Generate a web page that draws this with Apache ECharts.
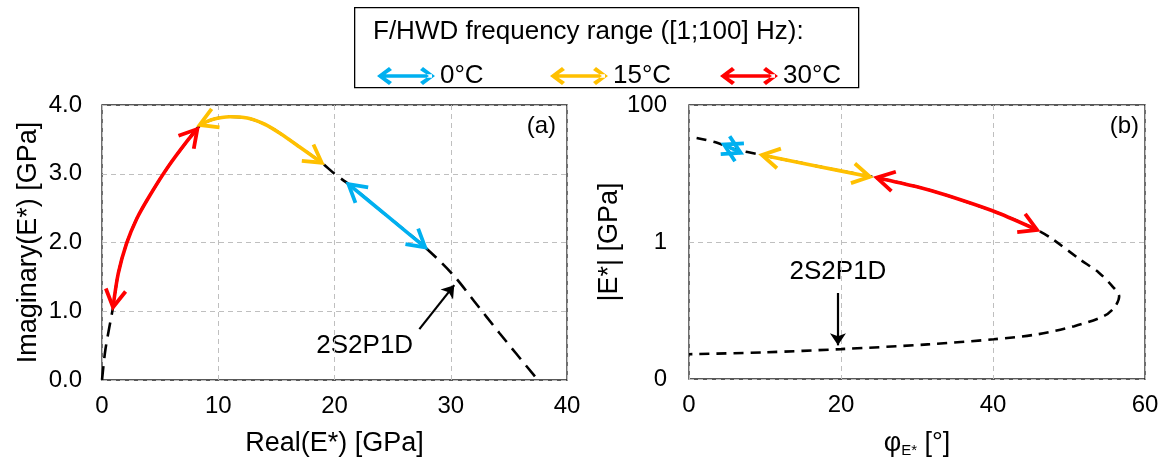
<!DOCTYPE html>
<html><head><meta charset="utf-8">
<script src="https://cdn.jsdelivr.net/npm/echarts@6/dist/echarts.min.js"></script>
<style>html,body{margin:0;padding:0;background:#fff}#c{width:1170px;height:463px}</style>
</head><body><div id="c"></div>
<script>
const FONT = '"Liberation Sans", Arial, sans-serif';

// ---- Panel (a): Cole-Cole plane, Real(E*) vs Imaginary(E*) [GPa]
const modelReal = [0,0.3,0.95,1.4,2.1,3.0,4.1,5.6,7.3,8.3,9.5,11,12.5,14,15.3,17,18.9,20,21.2,24.5,27.8,30.2,32,34.2,37.5];
const modelImag = [0,0.45,1.06,1.55,1.98,2.35,2.68,3.08,3.47,3.68,3.79,3.83,3.81,3.72,3.59,3.39,3.16,3.0,2.85,2.39,1.93,1.53,1.15,0.68,0];
const real30 = [0.95,1.4,2.1,3.0,4.1,5.6,7.3,8.2];
const imag30 = [1.06,1.55,1.98,2.35,2.68,3.08,3.47,3.65];
const real15 = [8.4,9.5,11,12.5,14,15.3,17,18.9];
const imag15 = [3.71,3.79,3.83,3.81,3.72,3.59,3.39,3.16];
const real0 = [21.2,24.5,27.8];
const imag0 = [2.85,2.39,1.93];

// ---- Panel (b): Black diagram, phase angle [°] vs |E*| [GPa]
const modelPhase = [1.0,3.5,5.8,9.6,15,20,24.7,30,33.9,40.5,45.8,47.9,51.4,53.9,55.8,56.6,56.0,54.6,50.7,45.9,40.1,31.4,20,9.9,0];
const modelModulus = [33,28.5,23,18.6,14.1,10.9,8.7,6.4,4.8,2.7,1.5,1.09,0.56,0.36,0.22,0.16,0.112,0.083,0.059,0.045,0.038,0.032,0.0273,0.0245,0.023];
const phase30 = [24.7,30,33.9,40.5,45.8];
const modulus30 = [8.7,6.4,4.8,2.7,1.5];
const phase15 = [9.6,16.7,23.8];
const modulus15 = [18.6,12.9,8.97];
const phase0 = [4.6,6.8];
const modulus0 = [26.5,20.0];

// annotations
const annotA = {label:'2S2P1D', text:[22.6,0.49], from:[27.3,0.74], to:[30.3,1.38]};
const annotB = {label:'2S2P1D', text:[19.6,0.37], from:[19.6,0.18], to:[19.6,0.031]};

const seriesNames = ['0°C','15°C','30°C'];
const seriesColors = ['#00B0F0','#FFC000','#FF0000'];
const legendTitle = 'F/HWD frequency range ([1;100] Hz):';

const zip = (a,b) => a.map((v,i)=>[v,b[i]]);

const DBL = 'path://M0,9 L12,0 L15,3 L6,9 L15,15 L12,18 Z M58,9 L46,0 L43,3 L52,9 L43,15 L46,18 Z M3,7.2 L55,7.2 L55,10.8 L3,10.8 Z';
const ARM = 20, HALF = 30 * Math.PI / 180;

function curve(name, pts, color, gi){
  return {type:'line', name, xAxisIndex:gi, yAxisIndex:gi, data:pts, smooth:0.3, showSymbol:false, symbol:'none',
    color, itemStyle:{color}, lineStyle:{color, width:3.6}, z:3, silent:true};
}
// open chevron arrowheads at both ends of a curve, drawn through the axes
function heads(pts, color, gi){
  const n = pts.length;
  const data = [[...pts[0], ...pts[1]], [...pts[n-1], ...pts[n-2]]];
  return {type:'custom', xAxisIndex:gi, yAxisIndex:gi, data, z:4, silent:true,
    encode:{x:[0,2], y:[1,3]},
    renderItem(params, api){
      const tip = api.coord([api.value(0), api.value(1)]);
      const prev = api.coord([api.value(2), api.value(3)]);
      const ang = Math.atan2(prev[1]-tip[1], prev[0]-tip[0]);
      const a1 = [tip[0] + ARM*Math.cos(ang+HALF), tip[1] + ARM*Math.sin(ang+HALF)];
      const a2 = [tip[0] + ARM*Math.cos(ang-HALF), tip[1] + ARM*Math.sin(ang-HALF)];
      return {type:'polyline', shape:{points:[a1, tip, a2]},
        style:{stroke:color, lineWidth:3.8, fill:null, lineJoin:'miter', lineCap:'butt'}};
    }};
}
function model(pts, gi, dash){
  return {type:'line', name:'2S2P1D', xAxisIndex:gi, yAxisIndex:gi, data:pts, smooth:0.3, showSymbol:false, symbol:'none',
    lineStyle:{color:'#000', width:2.6, type:dash}, z:2, silent:true};
}
function annotArrow(a, gi){
  return {type:'lines', coordinateSystem:'cartesian2d', xAxisIndex:gi, yAxisIndex:gi, symbol:['none','arrow'], symbolSize:12,
      lineStyle:{color:'#000', width:2.2, opacity:1}, data:[{coords:[a.from,a.to]}], z:5, silent:true};
}

const axisLabel = {fontSize:24, color:'#000', fontFamily:FONT};
const split = {show:true, lineStyle:{type:[5,4], color:'#bfbfbf', width:1}};
const nameStyle = {fontSize:27, color:'#000', fontFamily:FONT};

const ptsModelA = zip(modelReal, modelImag);
const ptsA = [zip(real0,imag0), zip(real15,imag15), zip(real30,imag30)];
const ptsModelB = zip(modelPhase, modelModulus);
const ptsB = [zip(phase0,modulus0), zip(phase15,modulus15), zip(phase30,modulus30)];

const series = [model(ptsModelA,0,[14,8]), model(ptsModelB,1,[10,7])];
for (let i=0;i<3;i++){
  series.push(curve(seriesNames[i], ptsA[i], seriesColors[i], 0));
  series.push(heads(ptsA[i], seriesColors[i], 0));
  series.push(curve(seriesNames[i], ptsB[i], seriesColors[i], 1));
  series.push(heads(ptsB[i], seriesColors[i], 1));
}
series.push(annotArrow(annotA,0), annotArrow(annotB,1));

const legendLefts = [372, 545, 715];
const legends = seriesNames.map((n,i)=>({
  data:[{name:n, icon:DBL}], left:legendLefts[i], top:58, itemWidth:58, itemHeight:18, itemGap:0,
  selectedMode:false, textStyle:{fontSize:26, color:'#000', fontFamily:FONT}
}));

const chart = echarts.init(document.getElementById('c'), null, {renderer:'canvas'});
const baseGraphic = [
  {type:'rect', left:354, top:7, shape:{width:504, height:80}, style:{fill:'#fff', stroke:'#000', lineWidth:1.3}, z:-1},
  {type:'text', left:373, top:19, style:{text:legendTitle, fill:'#000', font:'26px '+FONT}},
  {type:'text', right:1170-556, top:114, style:{text:'(a)', fill:'#000', font:'24px '+FONT}},
  {type:'text', right:1170-1139, top:114, style:{text:'(b)', fill:'#000', font:'24px '+FONT}}
];
chart.setOption({
  animation:false,
  textStyle:{fontFamily:FONT},
  legend: legends,
  grid:[
    {left:102, top:105, width:465, height:275, show:true, borderColor:'#222', borderWidth:1.3, backgroundColor:'transparent'},
    {left:689, top:105, width:456, height:275, show:true, borderColor:'#222', borderWidth:1.3, backgroundColor:'transparent'}
  ],
  xAxis:[
    {gridIndex:0, type:'value', min:0, max:40, interval:10, axisLine:{show:false}, axisTick:{show:false},
     axisLabel:{...axisLabel, margin:14}, splitLine:split,
     name:'Real(E*) [GPa]', nameLocation:'middle', nameGap:50, nameTextStyle:nameStyle},
    {gridIndex:1, type:'value', min:0, max:60, interval:20, axisLine:{show:false}, axisTick:{show:false},
     axisLabel:{...axisLabel, margin:14}, splitLine:split,
     name:'φ{s|E*} [°]', nameLocation:'middle', nameGap:50,
     nameTextStyle:{...nameStyle, rich:{s:{fontSize:15, color:'#000', fontFamily:FONT, padding:[14,0,0,0]}}}}
  ],
  yAxis:[
    {gridIndex:0, type:'value', min:0, max:4, interval:1, axisLine:{show:false}, axisTick:{show:false},
     axisLabel:{...axisLabel, margin:20, formatter:v=>v.toFixed(1)}, splitLine:split,
     name:'Imaginary(E*) [GPa]', nameLocation:'middle', nameGap:60, nameTextStyle:nameStyle},
    {gridIndex:1, type:'log', logBase:10, min:0.01, max:100, interval:2, axisLine:{show:false}, axisTick:{show:false},
     axisLabel:{...axisLabel, margin:22, formatter:v=> v < 0.1 ? '0' : String(Math.round(v))}, splitLine:split,
     name:'|E*| [GPa]', nameLocation:'middle', nameGap:52, nameTextStyle:nameStyle}
  ],
  graphic: baseGraphic,
  series
});
// annotation labels placed at their data positions through the axes
const pA = chart.convertToPixel({gridIndex:0}, annotA.text);
const pB = chart.convertToPixel({gridIndex:1}, annotB.text);
chart.setOption({graphic: baseGraphic.concat([
  {type:'text', x:pA[0], y:pA[1], style:{text:annotA.label, fill:'#000', font:'26px '+FONT, align:'center', verticalAlign:'middle'}},
  {type:'text', x:pB[0], y:pB[1], style:{text:annotB.label, fill:'#000', font:'26px '+FONT, align:'center', verticalAlign:'middle'}}
])});
</script></body></html>
